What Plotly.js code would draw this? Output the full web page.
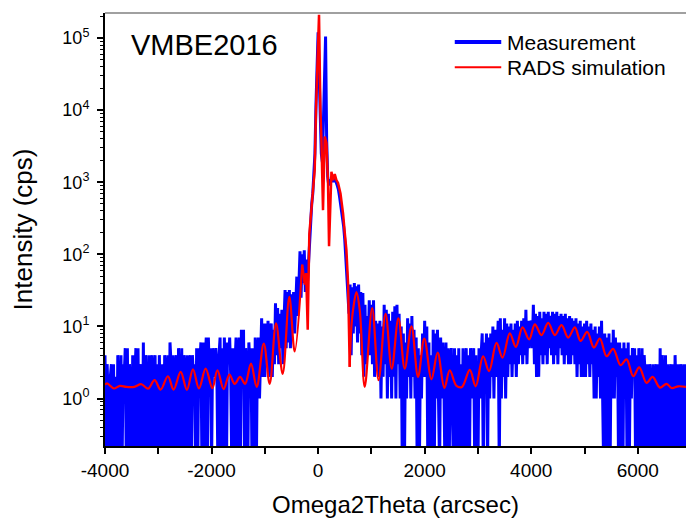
<!DOCTYPE html>
<html>
<head>
<meta charset="utf-8">
<script src="https://cdn.plot.ly/plotly-3.0.1.min.js"></script>
<style>
html,body{margin:0;padding:0;background:#fff;}
#chart{width:686px;height:519px;}
</style>
</head>
<body>
<div id="chart"></div>
<script>
// ---- Measurement scan (counts per second), step 20 arcsec from -4000 ----
const scanStart = -4000;
const scanStep = 20;
const zeroFloor = 0.1; // zero counts drawn below the axis floor

const meas_m4000 = [4,0,3,1,0,2,3,0,3,0, 2,0,4,1,0,4,0,3,2,5, 0,5,0,3,1,0,4,0,2,5, 0,5,0,2,3,0,6,0,4,1, 0,4,0,3,4,0,2,4,0,3];
const meas_m3000 = [0,4,1,0,3,0,4,2,0,4, 0,6,3,0,4,0,2,4,0,5, 1,0,5,0,4,2,0,4,0,3, 4,0,4,2,3,0,5,0,5,3, 6,0,6,0,3,7,0,7,2,5];
const meas_m2000 = [0,5,2,3,5,2,0,4,7,0, 5,0,7,2,0,6,3,7,2,0, 5,0,3,7,0,4,7,0,9,3, 9,0,5,2,0,6,3,5,0,5, 0,7,0,4,7,1,5,13,2,11];
const meas_m1000 = [2,11,3,12,2,8,11,2,9,3, 21,4,18,3,15,5,17,3,12,32, 5,30,6,32,5,28,9,30,8,26, 49,14,45,110,25,100,40,114,30,85, 40,80,200,300,500,700,1200,2500,12000,50000];
const meas_p0000 = [120000,30000,5000,2500,1900,6000,40000,105000,4000,1200, 900,1100,1000,1200,1000,1150,1050,1000,900,800, 650,500,450,330,240,160,95,50,30,15, 38,4,35,8,40,10,36,6,38,8, 30,4,29,2,20,3,14,5,23,4];
const meas_p1000 = [20,3,23,2,12,3,11,2,12,1, 10,2,20,3,17,1,15,2,12,1, 16,2,19,1,20,3,15,1,10,0, 8,0,6,1,13,2,11,1,14,2, 9,1,7,0,5,0,4,1,8,2];
const meas_p2000 = [12,2,10,0,6,0,4,0,9,0, 8,1,9,2,0,7,1,6,2,0, 6,0,5,0,3,5,1,0,5,0, 4,0,5,0,3,0,5,0,2,5, 0,4,0,5,1,3,5,0,4,0];
const meas_p3000 = [0,5,1,4,8,0,6,2,8,0, 7,1,8,2,10,1,9,2,7,12, 0,13,1,9,2,13,1,11,2,10, 3,11,2,9,3,11,2,12,3,10, 4,12,3,13,4,17,3,12,5,11];
const meas_p4000 = [12,5,20,3,15,2,14,2,16,4, 13,3,16,4,15,3,16,5,14,4, 16,3,15,4,16,3,14,5,15,4, 14,3,15,4,13,3,14,3,13,4, 12,3,13,2,11,3,12,2,10,2];
const meas_p5000 = [11,2,12,3,10,2,11,3,9,1, 10,1,8,2,10,1,12,2,0,8, 0,7,0,8,0,6,1,9,1,7, 2,6,0,6,0,5,0,6,1,5, 0,6,0,4,1,5,2,5,0,4];
const meas_p6000 = [0,5,1,0,5,0,4,2,0,3, 0,3,1,0,3,0,2,3,0,3, 0,5,0,4,1,0,4,0,3,0, 2,3,0,3,0,4,1,0,3,0, 3,2,0,3,0,3];

// ---- RADS simulation (extrema of the fringes) ----
const simLeftX = [-4000,-3960,-3830,-3720,-3600,-3450,-3318,-3194,-3069,-2956,-2819,-2712,-2580,-2462,-2349,-2236,-2111,-1985,-1890,-1773,-1665,-1566,-1465,-1370,-1260,-1153,-1020,-909,-790,-665,-540,-440,-300];
const simLeftY = [1.55,1.62,1.38,1.5,1.45,1.45,1.58,1.37,1.8,1.33,2.04,1.33,2.34,1.32,2.55,1.38,2.6,1.39,2.47,1.35,2.15,1.6,2.0,1.6,3.06,1.45,5.8,1.6,11,2.2,25.8,4.5,72];
const simCenterX = [-300,-250,-225,-195,-165,-125,-96,-64,-40,-20,17,43,62,92,124,156,186,205,250,280,312,343,374,420,468,500,531,562,593];
const simCenterY = [72,38,55,9,190,410,710,1480,10000,40000,210000,10000,3900,410,4300,3500,980,130,1400,1070,1300,1070,980,700,370,200,115,40,2.75];
const simRightX = [593,625,656,719,781,875,1015,1135,1266,1382,1507,1626,1752,1876,1993,2128,2243,2370,2471,2597,2700,2847,2957,3097,3209,3348,3461,3598,3711,3837,3961,4068,4193,4318,4443,4569,4693,4819,4926,5050,5176,5288,5414,5538,5677,5790,5914,6027,6166,6278,6415,6541,6635,6759,6905];
const simRightY = [2.75,10,17,30,17,1.45,18,1.8,15,2.6,12.9,2.6,10,2.0,6.8,1.85,4.35,1.4,2.47,1.5,1.45,2.5,1.48,3.86,2.4,5.9,3.7,8.0,5.2,9.7,6.6,10.7,7.6,11.2,7.6,10.4,7.0,9.7,6.3,8.4,5.1,6.8,3.86,4.9,2.9,3.5,2.04,2.7,1.65,2.0,1.42,1.6,1.4,1.48,1.45];

// ---- Text and ticks ----
const seriesNames = ['Measurement', 'RADS simulation'];
const xTickVals = [-4000,-2000,0,2000,4000,6000];
const xTickText = ['-4000','-2000','0','2000','4000','6000'];
const xMinorVals = [-3000,-1000,1000,3000,5000];
const yTickVals = [1,10,100,1000,10000,100000];
const yTickText = ['10<sup>0</sup>','10<sup>1</sup>','10<sup>2</sup>','10<sup>3</sup>','10<sup>4</sup>','10<sup>5</sup>'];

// ---- Build traces ----
const measCounts = [].concat(meas_m4000, meas_m3000, meas_m2000, meas_m1000, meas_p0000,
  meas_p1000, meas_p2000, meas_p3000, meas_p4000, meas_p5000, meas_p6000);
const measX = measCounts.map((_, i) => scanStart + i * scanStep);
const measY = measCounts.map(v => v > 0 ? v : zeroFloor);

const yMinorVals = [];
for (let k = -1; k <= 5; k++) for (let d = 2; d <= 9; d++) yMinorVals.push(d * Math.pow(10, k));

const blue = '#0000ff', red = '#ff0000';
const traces = [
  {x: measX, y: measY, type: 'scatter', mode: 'lines', name: seriesNames[0],
   line: {color: blue, width: 3}},
  {x: simLeftX, y: simLeftY, type: 'scatter', mode: 'lines', name: seriesNames[1],
   legendgroup: 'sim', line: {color: red, width: 2.2, shape: 'spline', smoothing: 1}},
  {x: simCenterX, y: simCenterY, type: 'scatter', mode: 'lines', name: seriesNames[1],
   legendgroup: 'sim', line: {color: red, width: 2.5}},
  {x: simRightX, y: simRightY, type: 'scatter', mode: 'lines', name: seriesNames[1],
   legendgroup: 'sim', line: {color: red, width: 2.2, shape: 'spline', smoothing: 1}}
];

// legend drawn in the plot's paper coordinates
const legX0 = 0.602, legX1 = 0.682, legTextX = 0.688;
const legY = [0.933, 0.875];

const fontFam = 'Liberation Sans, Arial, sans-serif';
const layout = {
  width: 686, height: 519,
  margin: {l: 105, r: 0, t: 13, b: 73},
  paper_bgcolor: '#fff', plot_bgcolor: '#fff',
  font: {family: fontFam, color: '#000'},
  showlegend: false,
  xaxis: {
    range: [-4000, 6905], tickmode: 'array', tickvals: xTickVals, ticktext: xTickText,
    ticks: 'outside', ticklen: 6, tickwidth: 1.5, tickcolor: '#000',
    minor: {tickmode: 'array', tickvals: xMinorVals, ticks: 'outside', ticklen: 6, tickwidth: 1.5, tickcolor: '#000'},
    showline: true, linecolor: '#000', linewidth: 2, showgrid: false, zeroline: false,
    tickfont: {family: fontFam, size: 19},
    title: {text: 'Omega2Theta (arcsec)', font: {family: fontFam, size: 24}, standoff: 16},
    automargin: false
  },
  yaxis: {
    type: 'log', range: [-0.658, 5.347], tickmode: 'array', tickvals: yTickVals, ticktext: yTickText,
    ticks: 'outside', ticklen: 6, tickwidth: 1.5, tickcolor: '#000',
    minor: {tickmode: 'array', tickvals: yMinorVals, ticks: 'outside', ticklen: 3, tickwidth: 1, tickcolor: '#000'},
    showline: true, linecolor: '#000', linewidth: 2, showgrid: false, zeroline: false,
    tickfont: {family: fontFam, size: 18}, ticklabelstandoff: 4,
    title: {text: 'Intensity (cps)', font: {family: fontFam, size: 26}, standoff: 22},
    automargin: false
  },
  shapes: [
    {type: 'line', xref: 'paper', yref: 'paper', x0: 0, x1: 1, y0: 1, y1: 1,
     line: {color: '#808080', width: 1.5}},
    {type: 'line', xref: 'paper', yref: 'paper', x0: legX0, x1: legX1, y0: legY[0], y1: legY[0],
     line: {color: blue, width: 4}},
    {type: 'line', xref: 'paper', yref: 'paper', x0: legX0, x1: legX1, y0: legY[1], y1: legY[1],
     line: {color: red, width: 2}}
  ],
  annotations: [
    {text: 'VMBE2016', xref: 'paper', yref: 'paper', x: 0.042, y: 0.927,
     xanchor: 'left', yanchor: 'middle', showarrow: false,
     font: {family: fontFam, size: 29, color: '#000'}},
    {text: seriesNames[0], xref: 'paper', yref: 'paper', x: legTextX, y: legY[0],
     xanchor: 'left', yanchor: 'middle', showarrow: false,
     font: {family: fontFam, size: 21, color: '#000'}},
    {text: seriesNames[1], xref: 'paper', yref: 'paper', x: legTextX, y: legY[1],
     xanchor: 'left', yanchor: 'middle', showarrow: false,
     font: {family: fontFam, size: 21, color: '#000'}}
  ]
};

Plotly.newPlot('chart', traces, layout, {displayModeBar: false, responsive: false});
</script>
</body>
</html>
